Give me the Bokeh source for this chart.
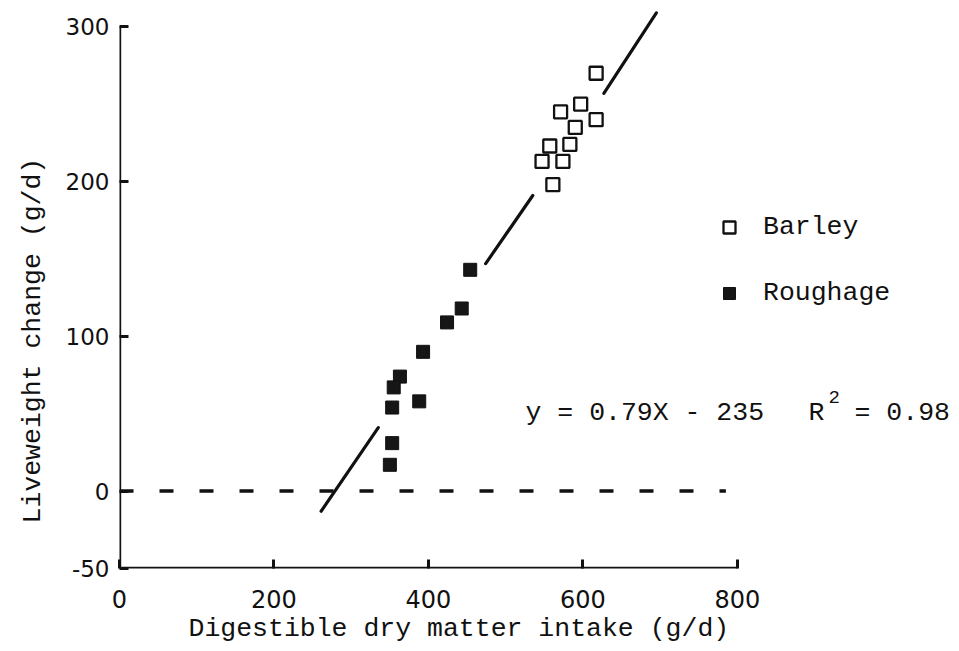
from bokeh.plotting import figure
from bokeh.models import Range1d, FixedTicker, Label, Legend, LegendItem, Title
from bokeh.embed import file_html
from bokeh.resources import INLINE

# ---- data ----
x_ticks = [0, 200, 400, 600, 800]
y_ticks = [-50, 0, 100, 200, 300]

barley_x = [617, 597, 571, 617, 590, 557, 583, 547, 574, 561]
barley_y = [270, 250, 245, 240, 235, 223, 224, 213, 213, 198]

roughage_x = [454, 443, 424, 393, 363, 355, 353, 388, 353, 350]
roughage_y = [143, 118, 109, 90, 74, 67, 54, 58, 31, 17]

# fitted line, drawn in three pieces (gaps around the points)
reg_x0 = [261, 474, 627]
reg_y0 = [-13, 147, 257]
reg_x1 = [335, 535, 695]
reg_y1 = [41, 191, 309]

zero_x = [0, 785]
zero_y = [0, 0]

x_title = "Digestible dry matter intake (g/d)"
y_title = "Liveweight change (g/d)"
eq_text = "y = 0.79X - 235"
r_text = "R"
r_sup = "2"
r_val = "= 0.98"

MONO = "Liberation Mono"
INK = "#111111"

p = figure(width=959, height=651,
           x_range=Range1d(0, 1087.4), y_range=Range1d(-50, 317),
           output_backend="svg", toolbar_location=None,
           min_border_left=119, min_border_right=0,
           min_border_top=0, min_border_bottom=83)
p.xgrid.visible = False
p.ygrid.visible = False
p.outline_line_color = None
p.background_fill_color = "white"

p.xaxis.ticker = FixedTicker(ticks=x_ticks)
p.yaxis.ticker = FixedTicker(ticks=y_ticks)
p.yaxis.major_label_overrides = {-50: "-50"}
for ax in (p.xaxis[0], p.yaxis[0]):
    ax.axis_line_color = None
    ax.major_tick_in = 9
    ax.major_tick_out = 0
    ax.major_tick_line_width = 3
    ax.major_tick_line_color = INK
    ax.minor_tick_line_color = None
    ax.major_label_text_font = "DejaVu Sans"
    ax.major_label_text_color = INK
p.xaxis.major_label_text_font_size = "24px"
p.xaxis.major_label_standoff = 21
p.yaxis.major_label_text_font_size = "23px"
p.yaxis.major_label_standoff = 10

# axis titles placed like the original (not centred on the frame)
p.add_layout(Title(text=x_title, align="left", offset=69, vertical_align="bottom",
                   standoff=2, text_font=MONO, text_font_size="26.5px",
                   text_font_style="normal", text_color=INK), "below")
p.add_layout(Title(text=y_title, align="left", offset=45, vertical_align="top",
                   standoff=26, text_font=MONO, text_font_size="26.5px",
                   text_font_style="normal", text_color=INK), "left")

# axis lines (only over the tick span, as in the original)
p.segment(x0=[x_ticks[0], x_ticks[0]], y0=[y_ticks[0], y_ticks[0]],
          x1=[x_ticks[0], x_ticks[-1]], y1=[y_ticks[-1], y_ticks[0]],
          line_color=INK, line_width=3.4)

# zero reference line
p.line(zero_x, zero_y, line_color=INK, line_width=3.5, line_dash="14 26")

# regression line pieces
p.segment(x0=reg_x0, y0=reg_y0, x1=reg_x1, y1=reg_y1,
          line_color=INK, line_width=3.2, line_cap="round")

barley = p.scatter(barley_x, barley_y, marker="square", size=13,
                   fill_color="white", line_color=INK, line_width=2.3)
rough = p.scatter(roughage_x, roughage_y, marker="square", size=13,
                  fill_color="#161616", line_color=INK, line_width=1)

legend = Legend(items=[LegendItem(label="Barley", renderers=[barley]),
                       LegendItem(label="Roughage", renderers=[rough])],
                location=(595, 260), orientation="vertical",
                glyph_width=30, glyph_height=30, label_height=30,
                spacing=36, label_standoff=19, padding=0, margin=0,
                border_line_color=None, background_fill_alpha=0,
                label_text_font=MONO, label_text_font_size="26.5px",
                label_text_color=INK)
p.add_layout(legend)

def lab(x, y, t, size="26.5px"):
    p.add_layout(Label(x=x, y=y, text=t, text_font=MONO, text_font_size=size,
                       text_color=INK, text_align="left",
                       text_baseline="alphabetic"))

lab(525.6, 50.2, eq_text)
lab(891.9, 50.2, r_text)
lab(917.8, 61.1, r_sup, size="19px")
lab(951.5, 50.2, r_val)

open("out.html", "w").write(file_html(p, INLINE))
